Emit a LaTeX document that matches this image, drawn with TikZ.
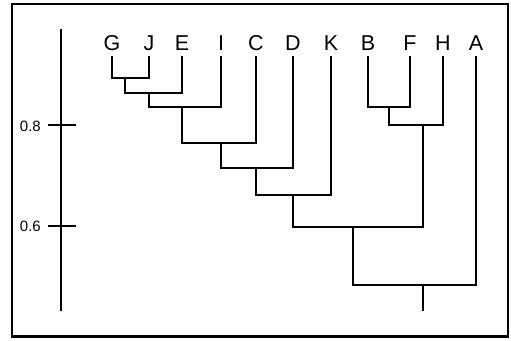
\documentclass[tikz,border=0pt]{standalone}
\usepackage{fontspec}
\setmainfont{Liberation Sans}
\begin{document}
\begin{tikzpicture}[x=1pt,y=-1pt,
  leaf/.style={inner sep=0pt, outer sep=0pt, outer ysep=6pt, text depth=0pt, anchor=base, font=\fontsize{21.5}{23}\selectfont},
  ticklab/.style={inner sep=0pt, anchor=base east, font=\fontsize{15}{17}\selectfont},
  tree/.style={line width=2pt, line join=miter},
  frame/.style={line width=2.6pt}]
\useasboundingbox (0,0) rectangle (511,340);
\draw[frame] (12,4) rectangle (508,336.5);
% axis
\coordinate (axT) at (61,29);
\coordinate (axB) at (61,311);
\draw[tree] (axT) -- (axB);
\coordinate (t8a) at (48,125); \coordinate (t8b) at (76,125);
\coordinate (t6a) at (48,226); \coordinate (t6b) at (76,226);
\draw[tree] (t8a) -- (t8b);
\draw[tree] (t6a) -- (t6b);
\node[ticklab] (l8) at (41,131.5) {0.8};
\node[ticklab] (l6) at (41,231.5) {0.6};
% leaves
\node[leaf] (G) at (112,50) {G};
\node[leaf] (J) at (149,50) {J};
\node[leaf] (E) at (182,50) {E};
\node[leaf] (I) at (221,50) {I};
\node[leaf] (C) at (256,50) {C};
\node[leaf] (D) at (293,50) {D};
\node[leaf] (K) at (331,50) {K};
\node[leaf] (B) at (368,50) {B};
\node[leaf] (F) at (410,50) {F};
\node[leaf] (H) at (443,50) {H};
\node[leaf] (A) at (476,50) {A};
% internal nodes
\coordinate (n1) at (125,78);
\coordinate (n2) at (149,93);
\coordinate (n3) at (182,107);
\coordinate (n4) at (221,143);
\coordinate (n5) at (256,168);
\coordinate (n6) at (293,195);
\coordinate (m1) at (389,107);
\coordinate (m2) at (423,125);
\coordinate (n7) at (353,227);
\coordinate (root) at (423,285);
\coordinate (rootend) at (423,311);
\draw[tree] (G.south) |- (n1) -| (J.south);
\draw[tree] (n1) |- (n2) -| (E.south);
\draw[tree] (n2) |- (n3) -| (I.south);
\draw[tree] (n3) |- (n4) -| (C.south);
\draw[tree] (n4) |- (n5) -| (D.south);
\draw[tree] (n5) |- (n6) -| (K.south);
\draw[tree] (B.south) |- (m1) -| (F.south);
\draw[tree] (m1) |- (m2) -| (H.south);
\draw[tree] (n6) |- (n7) -| (m2);
\draw[tree] (n7) |- (root) -| (A.south);
\draw[tree] (root) -- (rootend);
\end{tikzpicture}
\end{document}
